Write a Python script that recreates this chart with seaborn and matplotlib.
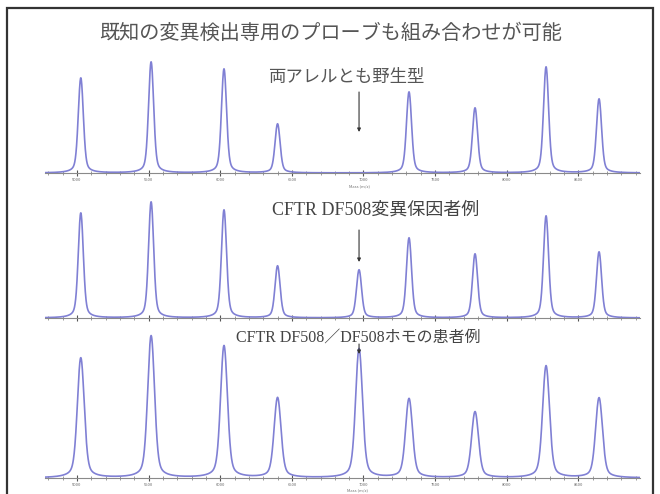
import numpy as np
import pandas as pd
import matplotlib
matplotlib.use("Agg")
import matplotlib.pyplot as plt
from matplotlib.ticker import AutoMinorLocator
from matplotlib.patches import Rectangle
import seaborn as sns

# Probe masses (m/z) and peak intensities for each sample
probe_mass = [5026, 5517, 6026, 6400, 6969, 7318, 7779, 8275, 8645]
wild_type = [95, 111, 104, 49, 0, 81, 65, 106, 74]
carrier = [105, 116, 108, 52, 48, 80, 64, 102, 66]
homozygote = [120, 142, 132, 80, 129, 79, 66, 112, 80]

title = "既知の変異検出専用のプローブも組み合わせが可能"
panel_labels = ["両アレルとも野生型", "CFTR DF508変異保因者例", "CFTR DF508／DF508ホモの患者例"]
mutant_mass = 6969
mass_ticks = [5000, 5500, 6000, 6500, 7000, 7500, 8000, 8500]

sns.set_theme(style="white")
plt.rcParams["font.family"] = ["Noto Sans CJK JP", "DejaVu Sans"]

W, H = 660, 494
fig = plt.figure(figsize=(W / 100, H / 100), dpi=100)
fig.patch.set_facecolor("white")


def fx(px):
    return px / W


def fy(py):
    return 1 - py / H


def spectrum(mz, centers, heights, sigma):
    y = np.zeros_like(mz)
    for c, h in zip(centers, heights):
        g = np.exp(-0.5 * ((mz - c) / sigma) ** 2)
        lor = 1.0 / (1.0 + ((mz - c) / (1.6 * sigma)) ** 2)
        y += h * (0.72 * g + 0.28 * lor)
    return y


mz = np.linspace(4776, 8931, 4000)
panels = [
    (wild_type, 173, 125, 17, True),
    (carrier, 318, 125, 17, False),
    (homozygote, 478, 150, 23, True),
]
line_color = "#8080d4"

axes = []
for heights, base, hgt, sigma, show_labels in panels:
    ax = fig.add_axes([fx(45), fy(base), fx(595), hgt / H])
    ax.patch.set_alpha(0)
    df = pd.DataFrame({"mz": mz, "intensity": spectrum(mz, probe_mass, heights, sigma)})
    sns.lineplot(data=df, x="mz", y="intensity", ax=ax, color=line_color, lw=1.2)
    ax.set_xlim(4776, 8931)
    ax.set_ylim(0, hgt)
    ax.set_xlabel("")
    ax.set_ylabel("")
    ax.set_yticks([])
    for s in ["top", "left", "right"]:
        ax.spines[s].set_visible(False)
    ax.spines["bottom"].set_color("#8a8a8a")
    ax.spines["bottom"].set_linewidth(0.8)
    ax.set_xticks(mass_ticks)
    ax.set_xticklabels([str(t) for t in mass_ticks])
    ax.xaxis.set_minor_locator(AutoMinorLocator(5))
    ax.tick_params(axis="x", which="major", direction="inout", length=5, width=0.8,
                   color="#555555", labelsize=3, labelcolor="#666666", pad=1,
                   bottom=True, labelbottom=show_labels)
    ax.tick_params(axis="x", which="minor", direction="inout", length=3, width=0.6,
                   color="#8a8a8a", bottom=True)
    axes.append(ax)

axes[0].text(6969, -13, "Mass (m/z)", fontsize=3, color="#777777", ha="center", va="center")
axes[2].text(6960, -12, "Mass (m/z)", fontsize=3, color="#777777", ha="center", va="center")

# Arrows marking the mutation-specific probe
arrow_spans = [(81, 41), (88, 56), (134, 124)]
for ax, (tail, head) in zip(axes, arrow_spans):
    ax.annotate("", xy=(mutant_mass, head), xytext=(mutant_mass, tail),
                arrowprops=dict(arrowstyle="-|>", color="#333333", lw=0.8,
                                mutation_scale=5, shrinkA=0, shrinkB=0))

fig.text(fx(331), fy(33), title, ha="center", va="center", fontsize=14.5,
         color="#555555")
fig.text(fx(346), fy(77), panel_labels[0], ha="center", va="center", fontsize=12.5,
         color="#555555")
fig.text(fx(376), fy(210), panel_labels[1], ha="center", va="center", fontsize=13,
         color="#444444", family=["Liberation Serif", "Noto Sans CJK JP"])
fig.text(fx(358), fy(338), panel_labels[2], ha="center", va="center", fontsize=11.5,
         color="#444444", family=["Liberation Serif", "Noto Sans CJK JP"])

# Slide frame
fig.add_artist(Rectangle((fx(7), fy(520)), fx(646), (520 - 8) / H,
                         transform=fig.transFigure, fill=False,
                         edgecolor="#333333", lw=1.6, clip_on=False))

fig.savefig("out.png", dpi=100)
